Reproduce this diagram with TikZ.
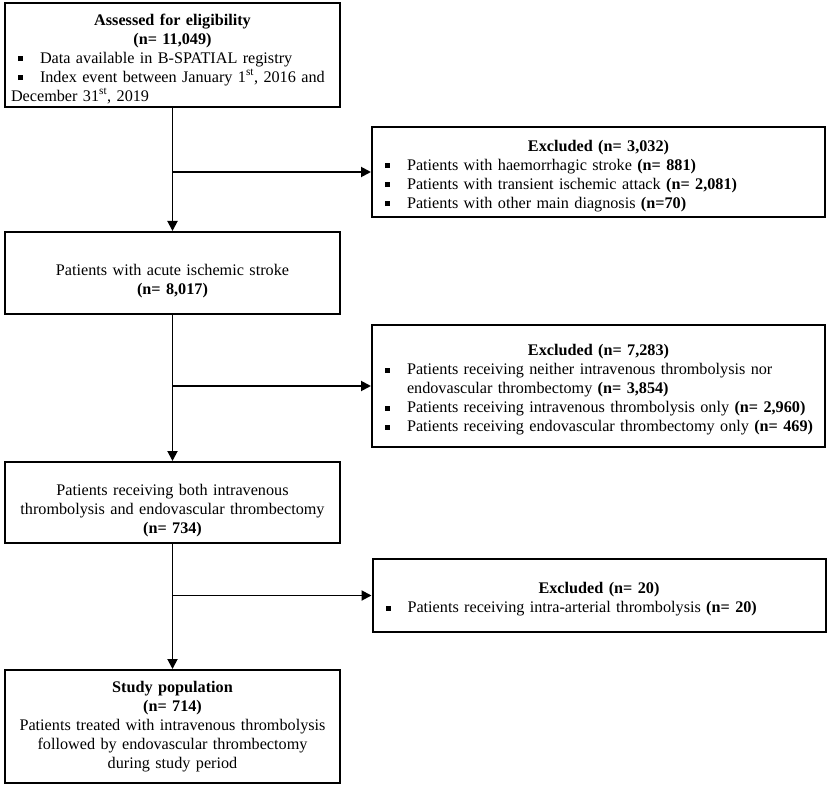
\documentclass[tikz,border=0pt]{standalone}
\usepackage{fontspec}
\setmainfont{Liberation Serif}
\usetikzlibrary{arrows.meta}

\newcommand{\flowfont}{\fontsize{16.2}{19}\selectfont\hyphenpenalty=10000\relax}
\newcommand{\sqbul}{\rule[0.3ex]{5pt}{5pt}}
\newcommand{\bitem}[1]{\par\noindent\hangindent=29pt\hangafter=1\makebox[29pt][l]{\hspace{7pt}\sqbul}#1}
\newcommand{\boxhead}[1]{\par\noindent\makebox[\linewidth]{\textbf{#1}}}

\tikzset{
  flowbox/.style={draw, rectangle, line width=2pt, minimum width=335pt, text width=323pt,
    inner xsep=6pt, inner ysep=2pt, align=center, font=\flowfont},
  exclbox/.style={flowbox, minimum width=453pt, text width=441pt, align=left},
  flowarrow/.style={-{Triangle[length=10pt,width=10pt]}, line width=1.9pt}
}

\begin{document}
\begin{tikzpicture}[x=1pt, y=-1pt]
    \useasboundingbox (0, 0) rectangle (829, 786);

    \node [flowbox, align=left, minimum height=104pt] (assessed) at (172.5, 55) {%
        \boxhead{Assessed for eligibility}
        \boxhead{(n= 11,049)}
        \bitem{Data available in B-SPATIAL registry}
        \bitem{Index event between January 1\textsuperscript{st}, 2016 and\newline December 31\textsuperscript{st}, 2019}};

    \node [exclbox, minimum height=90pt] (excldiag) at (598.5, 172) {%
        \boxhead{Excluded (n= 3,032)}
        \bitem{Patients with haemorrhagic stroke \textbf{(n= 881)}}
        \bitem{Patients with transient ischemic attack \textbf{(n= 2,081)}}
        \bitem{Patients with other main diagnosis \textbf{(n=70)}}};

    \node [flowbox, minimum height=82pt] (acute) at (172.5, 273) {%
        \rule{0pt}{27pt}Patients with acute ischemic stroke \\ \textbf{(n= 8,017)}};

    \node [exclbox, minimum height=122pt] (excltreat) at (598.5, 386) {%
        \boxhead{Excluded (n= 7,283)}
        \bitem{Patients receiving neither intravenous thrombolysis nor\newline endovascular thrombectomy \textbf{(n= 3,854)}}
        \bitem{Patients receiving intravenous thrombolysis only \textbf{(n= 2,960)}}
        \bitem{Patients receiving endovascular thrombectomy only \textbf{(n= 469)}}};

    \node [flowbox, minimum height=81pt] (both) at (172.5, 502.5) {%
        \rule{0pt}{27pt}Patients receiving both intravenous \\ thrombolysis and endovascular thrombectomy \\ \textbf{(n= 734)}};

    \node [exclbox, minimum height=73pt] (exclia) at (599, 595.5) {%
        \boxhead{Excluded (n= 20)}
        \bitem{Patients receiving intra-arterial thrombolysis \textbf{(n= 20)}}};

    \node [flowbox, minimum height=113pt] (study) at (172.5, 726.5) {%
        \textbf{Study population} \\ \textbf{(n= 714)} \\ Patients treated with intravenous thrombolysis \\
        followed by endovascular thrombectomy \\ during study period};

    \draw [flowarrow] (assessed.south) -- (acute.north);
    \draw [flowarrow] (assessed.south |- excldiag.west) -- (excldiag.west);

    \draw [flowarrow] (acute.south) -- (both.north);
    \draw [flowarrow] (acute.south |- excltreat.west) -- (excltreat.west);

    \draw [flowarrow] (both.south) -- (study.north);
    \draw [flowarrow] (both.south |- exclia.west) -- (exclia.west);

\end{tikzpicture}
\end{document}
